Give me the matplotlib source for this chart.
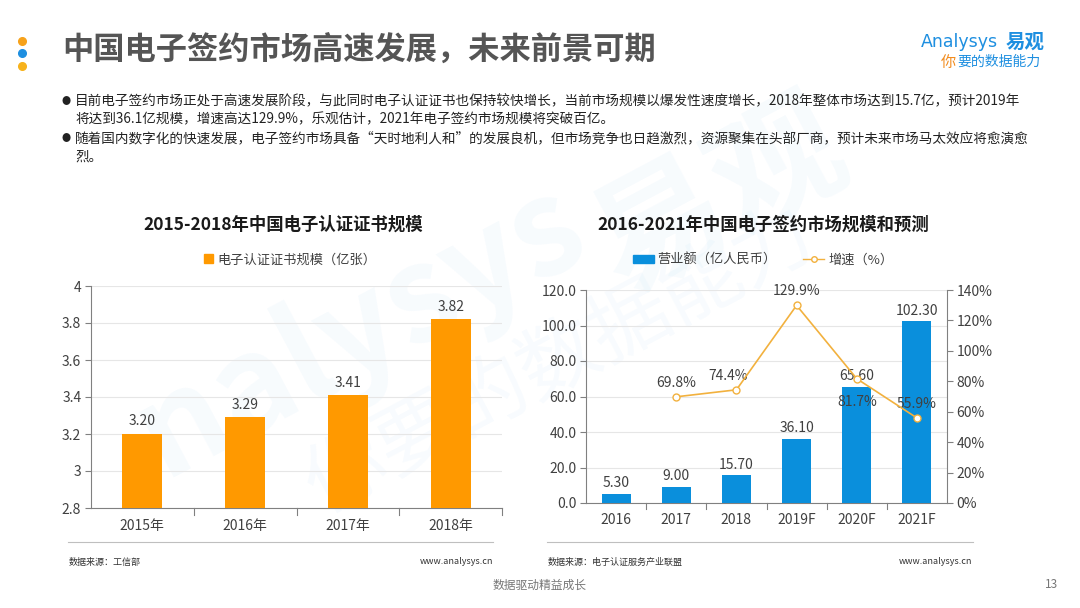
import matplotlib
matplotlib.use("Agg")
import matplotlib.pyplot as plt
from matplotlib.lines import Line2D
from matplotlib.patches import Patch

plt.rcParams['font.family'] = ['Noto Sans CJK SC', 'DejaVu Sans']

# ---------- data ----------
cert_years = ['2015年', '2016年', '2017年', '2018年']
cert_values = [3.20, 3.29, 3.41, 3.82]

market_years = ['2016', '2017', '2018', '2019F', '2020F', '2021F']
market_revenue = [5.30, 9.00, 15.70, 36.10, 65.60, 102.30]
growth_years = ['2017', '2018', '2019F', '2020F', '2021F']
growth_rate = [69.8, 74.4, 129.9, 81.7, 55.9]

W, H = 1080, 608
fig = plt.figure(figsize=(W / 100, H / 100), dpi=100)
fig.patch.set_facecolor('white')

def fx(x):
    return x / W

def fy(y):
    return 1 - y / H

ORANGE = '#FF9900'
BLUE = '#0A8FDC'
LINE = '#F2B13E'
TXT = '#404040'
GRID = '#E6E6E6'
AX = '#808080'

# ---------- watermark ----------
fig.text(fx(360), fy(330), 'nalysys', fontsize=95, fontweight='bold', color='#0A8FDC',
         alpha=0.035, rotation=28, ha='center', va='center', zorder=-5)
fig.text(fx(720), fy(200), '易观', fontsize=95, fontweight='bold', color='#0A8FDC',
         alpha=0.035, rotation=28, ha='center', va='center', zorder=-5)
fig.text(fx(560), fy(360), '你要的数据能力', fontsize=58, color='#0A8FDC',
         alpha=0.03, rotation=28, ha='center', va='center', zorder=-5)

# ---------- header ----------
for yy, c in [(41, '#F7A21B'), (53, '#1E8FE0'), (66, '#F7B21B')]:
    fig.add_artist(Line2D([fx(22)], [fy(yy)], marker='o', markersize=5.5, color=c,
                          linestyle='none'))
fig.text(fx(62), fy(50), '中国电子签约市场高速发展，未来前景可期', fontsize=22.5,
         fontweight='bold', color='#555555', ha='left', va='center')
fig.text(fx(921), fy(42), 'Analysys', fontsize=12.5, color='#1E8FE0', ha='left',
         va='center', family=['DejaVu Sans'])
fig.text(fx(1006), fy(42), '易观', fontsize=14, color='#1E8FE0', fontweight='bold',
         ha='left', va='center')
fig.text(fx(941), fy(62), '你', fontsize=11, color='#F28C1E', ha='left', va='center',
         style='italic')
fig.text(fx(957), fy(62), '要的数据能力', fontsize=10, color='#1E8FE0', ha='left',
         va='center', style='italic')

# ---------- bullets ----------
lines = [
    (101, True, '目前电子签约市场正处于高速发展阶段，与此同时电子认证证书也保持较快增长，当前市场规模以爆发性速度增长，2018年整体市场达到15.7亿，预计2019年'),
    (119, False, '将达到36.1亿规模，增速高达129.9%，乐观估计，2021年电子签约市场规模将突破百亿。'),
    (138, True, '随着国内数字化的快速发展，电子签约市场具备“天时地利人和”的发展良机，但市场竞争也日趋激烈，资源聚集在头部厂商，预计未来市场马太效应将愈演愈'),
    (157, False, '烈。'),
]
for yy, bullet, s in lines:
    if bullet:
        fig.text(fx(62), fy(yy), '●', fontsize=6.5, color='#222222', ha='left', va='center')
    fig.text(fx(75), fy(yy), s, fontsize=9.8, color='#222222', ha='left', va='center')

# ---------- left chart ----------
axL = fig.add_axes([fx(91), fy(508), fx(502) - fx(91), fy(286) - fy(508)])
axL.set_facecolor('none')
xL = list(range(len(cert_years)))
axL.bar(xL, cert_values, width=0.39, color=ORANGE, zorder=3)
axL.set_xlim(-0.5, len(cert_years) - 0.5)
axL.set_ylim(2.8, 4.0)
axL.set_yticks([2.8, 3.0, 3.2, 3.4, 3.6, 3.8, 4.0])
axL.set_yticklabels(['2.8', '3', '3.2', '3.4', '3.6', '3.8', '4'])
axL.grid(axis='y', color=GRID, linewidth=0.8, zorder=0)
axL.set_xticks(xL)
axL.set_xticklabels(cert_years)
axL.tick_params(axis='x', length=0, pad=8, labelsize=10, labelcolor=TXT)
axL.tick_params(axis='y', length=4, color=AX, labelsize=10, labelcolor=TXT, pad=3)
for x0 in [0.5, 1.5, 2.5, 3.5]:
    axL.plot([x0, x0], [0, -0.03], transform=axL.get_xaxis_transform(), color=AX,
             lw=0.8, clip_on=False)
for sp in ['top', 'right']:
    axL.spines[sp].set_visible(False)
axL.spines['left'].set_color(AX)
axL.spines['bottom'].set_color(AX)
for x, v in zip(xL, cert_values):
    axL.text(x, v + 0.03, f'{v:.2f}', ha='center', va='bottom', fontsize=10, color=TXT)
fig.text(fx(283), fy(225), '2015-2018年中国电子认证证书规模', fontsize=12.5,
         fontweight='bold', color='#1a1a1a', ha='center', va='center')
legL = fig.legend(handles=[Patch(color=ORANGE, label='电子认证证书规模（亿张）')],
                  loc='center', bbox_to_anchor=(fx(290), fy(260)), frameon=False,
                  fontsize=9.5, handlelength=0.7, handleheight=0.7, handletextpad=0.3)
for t in legL.get_texts():
    t.set_color(TXT)

# ---------- right chart ----------
axR = fig.add_axes([fx(586), fy(503), fx(947) - fx(586), fy(290) - fy(503)])
axR.set_facecolor('none')
xR = list(range(len(market_years)))
axR.bar(xR, market_revenue, width=0.48, color=BLUE, zorder=3)
axR.set_xlim(-0.5, len(market_years) - 0.5)
axR.set_ylim(0, 120)
axR.set_yticks([0, 20, 40, 60, 80, 100, 120])
axR.set_yticklabels([f'{v:.1f}' for v in [0, 20, 40, 60, 80, 100, 120]])
axR.grid(axis='y', color=GRID, linewidth=0.8, zorder=0)
axR.set_xticks(xR)
axR.set_xticklabels(market_years)
axR.tick_params(axis='x', length=0, pad=7, labelsize=10, labelcolor=TXT)
axR.tick_params(axis='y', length=4, color=AX, labelsize=10, labelcolor=TXT, pad=3)
for x0 in [0.5, 1.5, 2.5, 3.5, 4.5]:
    axR.plot([x0, x0], [0, -0.03], transform=axR.get_xaxis_transform(), color=AX,
             lw=0.8, clip_on=False)
axR.spines['top'].set_visible(False)
axR.spines['right'].set_visible(False)
axR.spines['left'].set_color(AX)
axR.spines['bottom'].set_color(AX)
for x, v in zip(xR, market_revenue):
    axR.text(x, v + 2, f'{v:.2f}', ha='center', va='bottom', fontsize=10, color=TXT)

axR2 = axR.twinx()
axR2.set_ylim(0, 140)
axR2.set_yticks([0, 20, 40, 60, 80, 100, 120, 140])
axR2.set_yticklabels([f'{v}%' for v in [0, 20, 40, 60, 80, 100, 120, 140]])
axR2.tick_params(axis='y', length=4, color=AX, labelsize=10, labelcolor=TXT, pad=3)
for sp in ['top', 'left', 'bottom']:
    axR2.spines[sp].set_visible(False)
axR2.spines['right'].set_color(AX)
gx = [market_years.index(y) for y in growth_years]
axR2.plot(gx, growth_rate, color=LINE, lw=1.2, marker='o', markersize=5,
          markerfacecolor='white', markeredgecolor=LINE, markeredgewidth=1.0, zorder=5)
offsets = {'2017': (0, 5), '2018': (-6, 5), '2019F': (0, 5), '2020F': (0, -22), '2021F': (0, 5)}
for yname, x, v in zip(growth_years, gx, growth_rate):
    axR2.annotate(f'{v:.1f}%', (x, v), xytext=offsets[yname], textcoords='offset points',
                  ha='center', va='bottom', fontsize=10, color=TXT)

fig.text(fx(763), fy(225), '2016-2021年中国电子签约市场规模和预测', fontsize=12.5,
         fontweight='bold', color='#1a1a1a', ha='center', va='center')
legR = fig.legend(handles=[Patch(color=BLUE, label='营业额（亿人民币）'),
                           Line2D([0], [0], color=LINE, lw=1.0, marker='o', markersize=4,
                                  markerfacecolor='white', markeredgecolor=LINE,
                                  label='增速（%）')],
                  loc='center', bbox_to_anchor=(fx(763), fy(260)), frameon=False, ncol=2,
                  fontsize=9.5, handlelength=1.6, handleheight=0.6, handletextpad=0.3,
                  columnspacing=2.0)
for t in legR.get_texts():
    t.set_color(TXT)

# ---------- separators and sources ----------
fig.add_artist(Line2D([fx(68), fx(493)], [fy(542), fy(542)], color='#BFBFBF', lw=0.8))
fig.add_artist(Line2D([fx(547), fx(973)], [fy(542), fy(542)], color='#BFBFBF', lw=0.8))
fig.text(fx(69), fy(562), '数据来源：工信部', fontsize=6.5, color='#333333', ha='left', va='center')
fig.text(fx(493), fy(562), 'www.analysys.cn', fontsize=6.5, color='#333333', ha='right', va='center')
fig.text(fx(548), fy(562), '数据来源：电子认证服务产业联盟', fontsize=6.5, color='#333333',
         ha='left', va='center')
fig.text(fx(972), fy(562), 'www.analysys.cn', fontsize=6.5, color='#333333', ha='right', va='center')

fig.text(fx(540), fy(585), '数据驱动精益成长', fontsize=8.5, color='#777777', ha='center', va='center')
fig.text(fx(1052), fy(585), '13', fontsize=8.5, color='#777777', ha='center', va='center')

fig.savefig('out.png', dpi=100, facecolor='white')
